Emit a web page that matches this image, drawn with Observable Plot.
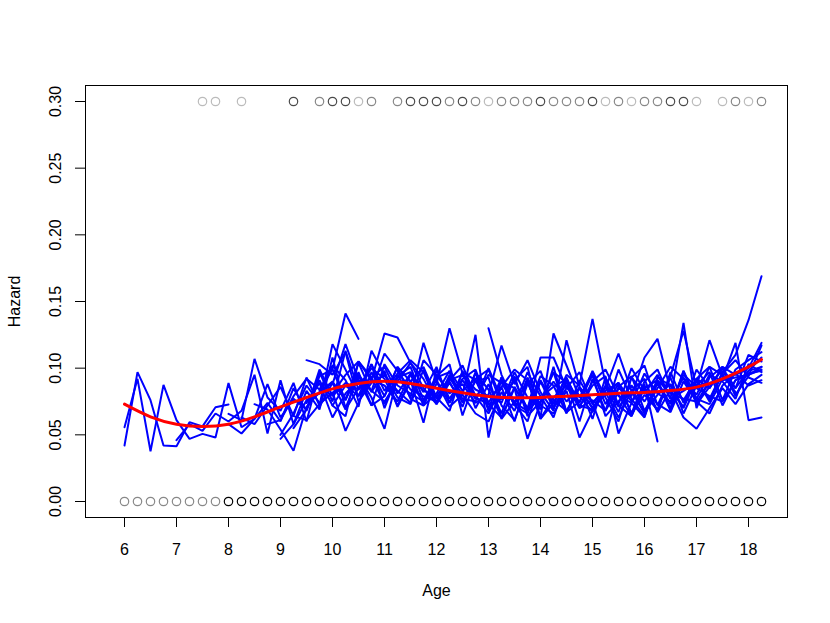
<!DOCTYPE html>
<html><head><meta charset="utf-8">
<script src="https://cdn.jsdelivr.net/npm/d3@7"></script>
<script src="https://cdn.jsdelivr.net/npm/@observablehq/plot@0.6"></script>
<style>body{margin:0;background:#fff}</style>
</head><body><div id="chart"></div>
<script>
// ---- data ----
const xTicks = [6, 7, 8, 9, 10, 11, 12, 13, 14, 15, 16, 17, 18];
const yTicks = [0, 0.05, 0.10, 0.15, 0.20, 0.25, 0.30];
const ageStep = 0.25;

// start age of each hazard run (quarter-year steps)
const runStarts = [6.0, 6.0, 7.0, 8.0, 8.25, 8.5, 8.75, 9.0, 9.0, 9.25, 9.25, 9.5, 9.5, 9.75, 9.75, 10.0, 13.0, 8.0, 10.0];

const h01 = [0.042, 0.097, 0.076, 0.042, 0.0415, 0.0595, 0.0563, 0.0707, 0.0727];
const h02 = [0.0557, 0.092, 0.0377, 0.0875, 0.061, 0.047, 0.0507, 0.048,
  0.0888, 0.0557, 0.062, 0.074, 0.060, 0.085, 0.068, 0.094, 0.099, 0.076, 0.104, 0.082,
  0.098, 0.071, 0.090, 0.101, 0.078, 0.068, 0.098, 0.070, 0.088, 0.066, 0.094, 0.064,
  0.075, 0.097, 0.067, 0.086, 0.062, 0.093, 0.073, 0.100, 0.083, 0.068, 0.097, 0.074,
  0.092, 0.101, 0.076, 0.099, 0.106, 0.112];
const h03 = [0.046, 0.058, 0.053, 0.066,
  0.060, 0.068, 0.095, 0.051, 0.091, 0.058, 0.083, 0.069, 0.108, 0.070, 0.094, 0.078,
  0.0545, 0.094, 0.101, 0.076, 0.094, 0.103, 0.0645, 0.092, 0.099, 0.072, 0.061, 0.088,
  0.098, 0.070, 0.090, 0.060, 0.092, 0.068, 0.099, 0.077, 0.064, 0.089, 0.070, 0.098,
  0.073, 0.086, 0.100, 0.085, 0.098, 0.101];
const h04 = [0.0657, 0.061, 0.107, 0.078, 0.068, 0.089, 0.060, 0.097, 0.075, 0.113, 0.084, 0.103,
  0.070, 0.095, 0.078, 0.119, 0.090, 0.071, 0.080, 0.125, 0.048, 0.093, 0.072, 0.097,
  0.079, 0.063, 0.092, 0.074, 0.098, 0.078, 0.060, 0.093, 0.102, 0.072, 0.093, 0.066,
  0.087, 0.097, 0.072, 0.091, 0.096, 0.098];
const h05 = [0.063, 0.058, 0.072, 0.086, 0.064, 0.093, 0.072, 0.118, 0.099, 0.079, 0.103,
  0.083, 0.096, 0.106, 0.097, 0.074, 0.090, 0.071, 0.097, 0.068, 0.086, 0.099, 0.091,
  0.063, 0.126, 0.102, 0.078, 0.097, 0.073, 0.088, 0.066, 0.090, 0.099, 0.077, 0.134,
  0.070, 0.093, 0.101, 0.080, 0.094, 0.117];
const h06 = [0.073, 0.069, 0.054, 0.038, 0.071, 0.082, 0.090, 0.076, 0.097, 0.072,
  0.079, 0.101, 0.090, 0.074, 0.088, 0.130, 0.096, 0.078, 0.073, 0.063, 0.085, 0.070,
  0.094, 0.087, 0.066, 0.091, 0.074, 0.048, 0.086, 0.094, 0.068, 0.085, 0.101, 0.092,
  0.077, 0.073, 0.092, 0.119, 0.061, 0.063];
const h07 = [0.058, 0.061, 0.079, 0.092, 0.084, 0.102, 0.091, 0.071, 0.113,
  0.095, 0.083, 0.074, 0.106, 0.095, 0.081, 0.088, 0.074, 0.080, 0.117, 0.088, 0.106,
  0.082, 0.068, 0.121, 0.086, 0.074, 0.085, 0.111, 0.083, 0.066, 0.090, 0.073, 0.095,
  0.086, 0.121, 0.094, 0.085, 0.110, 0.105];
const h08 = [0.050, 0.066, 0.087, 0.074, 0.081, 0.095, 0.105, 0.091,
  0.126, 0.123, 0.104, 0.092, 0.073, 0.095, 0.080, 0.066, 0.060, 0.082, 0.068, 0.093,
  0.072, 0.066, 0.083, 0.048, 0.068, 0.082, 0.063, 0.083, 0.092, 0.067, 0.084, 0.063,
  0.0545, 0.070, 0.085, 0.073, 0.088, 0.095];
const h09 = [0.047, 0.058, 0.076, 0.081, 0.089, 0.069, 0.085, 0.100,
  0.092, 0.072, 0.091, 0.059, 0.099, 0.077, 0.092, 0.099, 0.074, 0.090, 0.085, 0.047,
  0.074, 0.097, 0.089, 0.071, 0.087, 0.094, 0.051, 0.074, 0.063, 0.093, 0.087, 0.070,
  0.092, 0.075, 0.096, 0.106, 0.093, 0.089];
const h10 = [0.055, 0.069, 0.091, 0.072, 0.064, 0.105, 0.093,
  0.073, 0.093, 0.097, 0.082, 0.101, 0.074, 0.091, 0.077, 0.095, 0.089, 0.073, 0.060,
  0.091, 0.073, 0.095, 0.087, 0.137, 0.088, 0.072, 0.064, 0.085, 0.073, 0.067, 0.090,
  0.075, 0.066, 0.087, 0.096, 0.087, 0.091];
const h11 = [0.064, 0.061, 0.073, 0.082, 0.053, 0.074, 0.097,
  0.079, 0.101, 0.077, 0.072, 0.093, 0.097, 0.074, 0.096, 0.084, 0.063, 0.086, 0.069,
  0.108, 0.108, 0.085, 0.079, 0.067, 0.086, 0.080, 0.064, 0.088, 0.045];
const h12 = [0.106, 0.103, 0.095, 0.112, 0.075, 0.089,
  0.095, 0.078, 0.073, 0.099, 0.077, 0.091, 0.102, 0.079, 0.066, 0.086, 0.060, 0.091,
  0.062, 0.078, 0.087, 0.070, 0.076, 0.068, 0.085, 0.079, 0.108, 0.122, 0.083, 0.071,
  0.099, 0.085, 0.101, 0.095, 0.100, 0.119];
const h13 = [0.074, 0.089, 0.063, 0.081, 0.091, 0.072,
  0.103, 0.087, 0.081, 0.075, 0.091, 0.074, 0.097, 0.091, 0.070, 0.093, 0.072, 0.066,
  0.090, 0.076, 0.068, 0.085, 0.070, 0.083, 0.089, 0.066, 0.080, 0.069, 0.094, 0.128,
  0.085, 0.079, 0.075, 0.091, 0.095, 0.101];
const h14 = [0.071, 0.089, 0.077, 0.095, 0.083,
  0.075, 0.090, 0.104, 0.085, 0.073, 0.089, 0.075, 0.090, 0.093, 0.062, 0.075, 0.089,
  0.069, 0.101, 0.067, 0.075, 0.095, 0.064, 0.075, 0.087, 0.075, 0.090, 0.068, 0.098,
  0.077, 0.095, 0.090, 0.077, 0.103, 0.097];
const h15 = [0.083, 0.099, 0.141, 0.122];
const h16 = [0.072, 0.087, 0.079, 0.091, 0.087, 0.075, 0.095, 0.083,
  0.079, 0.093, 0.077, 0.075, 0.100, 0.077, 0.091, 0.069, 0.090, 0.070, 0.085, 0.097,
  0.073, 0.086, 0.067, 0.093, 0.081, 0.095, 0.077, 0.083, 0.090, 0.077, 0.097, 0.110,
  0.136, 0.169];
const h17 = [0.130, 0.095, 0.074, 0.068, 0.078, 0.086, 0.092, 0.072,
  0.069, 0.087, 0.071, 0.083, 0.067, 0.080, 0.088, 0.076, 0.092, 0.085, 0.100, 0.079,
  0.098, 0.108];
const h18 = [0.058, 0.051, 0.062, 0.088, 0.063, 0.077, 0.069, 0.099, 0.079, 0.089, 0.084, 0.093,
  0.101, 0.081, 0.096, 0.072, 0.081, 0.098, 0.083, 0.092, 0.073, 0.077, 0.091, 0.101,
  0.062, 0.074, 0.093, 0.071, 0.090, 0.099, 0.079, 0.074, 0.096, 0.081, 0.075, 0.093,
  0.080, 0.101, 0.095, 0.082];
const h19 = [0.088, 0.118, 0.091, 0.083, 0.111, 0.098, 0.084, 0.079,
  0.075, 0.091, 0.095, 0.084, 0.079, 0.074, 0.097, 0.078, 0.077, 0.090, 0.075, 0.085,
  0.070, 0.080, 0.089, 0.075, 0.085, 0.091, 0.081, 0.077, 0.075, 0.089, 0.091, 0.093,
  0.095, 0.099];
const runHazards = [h01, h02, h03, h04, h05, h06, h07, h08, h09, h10, h11, h12, h13, h14, h15, h16, h17, h18, h19];

// smoothed average hazard (red)
const smoothAges   = [6, 6.5, 7, 7.5, 8, 8.5, 9, 9.5, 10, 10.5, 11, 11.5, 12, 12.5, 13, 13.5, 14, 14.5, 15, 15.5, 16, 16.5, 17, 17.5, 18, 18.25];
const smoothHazard = [0.073, 0.0635, 0.058, 0.0563, 0.058, 0.0635, 0.071, 0.078, 0.0845, 0.0885, 0.0902, 0.0885, 0.085, 0.0815, 0.0788, 0.0778, 0.078, 0.079, 0.080, 0.0812, 0.0818, 0.0832, 0.0858, 0.092, 0.101, 0.1065];

// event marks at top (0.30) and censoring marks at bottom (0.00); level = overlap darkness
const eventAges   = [7.5, 7.75, 8.25, 9.25, 9.75, 10, 10.25, 10.5, 10.75, 11.25, 11.5, 11.75, 12, 12.25, 12.5, 12.75, 13, 13.25, 13.5, 13.75, 14, 14.25, 14.5, 14.75, 15, 15.25, 15.5, 15.75, 16, 16.25, 16.5, 16.75, 17, 17.5, 17.75, 18, 18.25];
const eventLevel  = [1, 1, 1, 3, 2, 3, 3, 1, 2, 2, 3, 3, 3, 2, 3, 2, 1, 2, 2, 2, 3, 2, 2, 2, 3, 1, 2, 1, 2, 2, 3, 3, 1, 1, 2, 1, 2];
const censorAges  = d3.range(6, 18.26, 0.25);
const censorLevel = censorAges.map(a => a < 8 ? 2 : 4);
const levelColor  = ["#ffffff", "#bbbbbb", "#888888", "#4a4a4a", "#000000"];

// ---- build tables ----
const runRows = [];
runHazards.forEach((vals, i) => vals.forEach((h, j) => runRows.push({run: i, age: runStarts[i] + j * ageStep, h})));
const smoothRows = smoothAges.map((a, i) => ({age: a, h: smoothHazard[i]}));
const dotRows = [
  ...eventAges.map((a, i) => ({age: a, y: 0.30, c: levelColor[eventLevel[i]]})),
  ...censorAges.map((a, i) => ({age: a, y: 0, c: levelColor[censorLevel[i]]}))
];

const font = "'Liberation Sans', Arial, Helvetica, sans-serif";
const fs = 16;
const chart = Plot.plot({
  width: 830, height: 623,
  marginLeft: 85, marginRight: 43, marginTop: 85, marginBottom: 106,
  x: {domain: [5.25, 18.75]},
  y: {domain: [-0.012, 0.312]},
  style: {fontFamily: font, fontSize: fs + "px", background: "white", color: "black"},
  marks: [
    Plot.axisX({ticks: xTicks, tickSize: 10, tickPadding: 16, label: null, tickFormat: d => String(d), fontSize: fs}),
    Plot.axisY({ticks: yTicks, tickSize: 10, label: null, tickFormat: () => ""}),
    Plot.text(yTicks, {y: d => d, text: d => d.toFixed(2), frameAnchor: "left", dx: -30, rotate: -90, textAnchor: "middle", lineAnchor: "middle", fontSize: fs}),
    Plot.text(["Age"], {frameAnchor: "bottom", dy: 73, text: d => d, lineAnchor: "middle", fontSize: fs}),
    Plot.text(["Hazard"], {frameAnchor: "left", dx: -71, rotate: -90, text: d => d, textAnchor: "middle", lineAnchor: "middle", fontSize: fs}),
    Plot.dot(dotRows, {x: "age", y: "y", r: 4.2, stroke: d => d.c, fill: "none", strokeWidth: 1.2}),
    Plot.line(runRows, {x: "age", y: "h", z: "run", stroke: "#0000ff", strokeWidth: 2, strokeLinejoin: "miter"}),
    Plot.line(smoothRows, {x: "age", y: "h", stroke: "#ff0000", strokeWidth: 3, curve: "natural"}),
    Plot.frame({stroke: "black", strokeWidth: 1})
  ]
});
document.getElementById("chart").appendChild(chart);
</script></body></html>
